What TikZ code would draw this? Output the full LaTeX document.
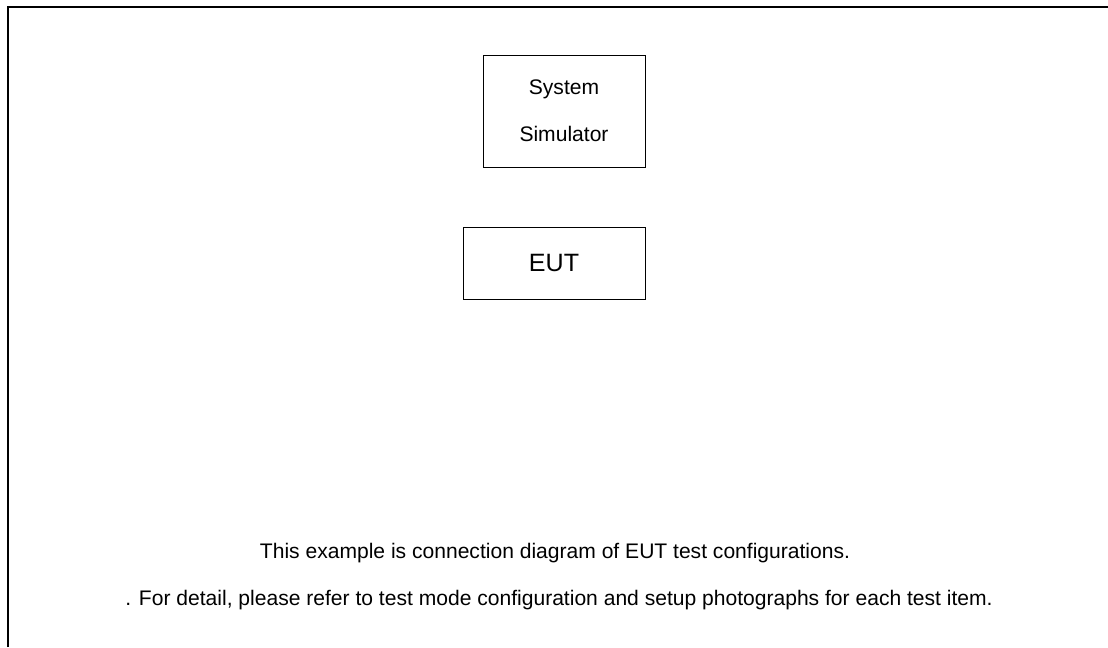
\documentclass[tikz,border=0pt]{standalone}
\usepackage{fontspec}
\setmainfont{Liberation Sans}
\usetikzlibrary{positioning}
\tikzset{unit/.style = {draw,line width=0.75pt,inner sep=0pt,align=center}}

\begin{document}
\begin{tikzpicture}[x=0.75pt,y=-0.75pt]
                    \useasboundingbox (0,0) rectangle (1108,647);
                    \draw[line width=1.5pt] (8,647) -- (8,7) -- (1108,7);
                    \node [unit,minimum width=121.5pt,minimum height=84pt,
                           font=\fontsize{15.8}{35}\selectfont] (sim) at (564,111) {System\\Simulator};
                    \node [unit,minimum width=136.5pt,minimum height=54pt,
                           font=\fontsize{18.8}{22}\selectfont] (eut) at (554,263) {EUT};
                    \node [font=\fontsize{15.8}{18}\selectfont] (note1) at (555,553) {This example is connection diagram of EUT test configurations.};
                    \node [font=\fontsize{15.8}{18}\selectfont] (note2) at (559,600) {. For detail, please refer to test mode configuration and setup photographs for each test item.};
                \end{tikzpicture}
\end{document}
